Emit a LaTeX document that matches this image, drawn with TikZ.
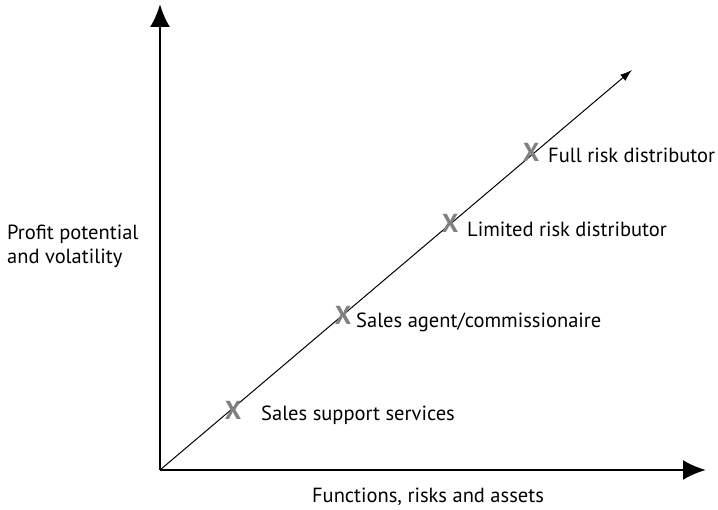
\documentclass[tikz,border=0pt]{standalone}
\usepackage{fontspec}
\setmainfont{PT Sans}
\usetikzlibrary{arrows.meta}
\begin{document}
\begin{tikzpicture}[x=1pt,y=-1pt,
  axis/.style={line width=2.5pt,-{Latex[length=23pt,width=20pt]}},
  xmark/.style={text=gray,font=\fontsize{26}{26}\selectfont\bfseries,inner sep=0pt},
  lbl/.style={font=\fontsize{20.5}{24}\selectfont,anchor=west,inner sep=0pt}]
\useasboundingbox (0,0) rectangle (718,510);
\coordinate (O) at (160,470);
\coordinate (ytop) at (160,4);
\coordinate (xend) at (706,470);
\coordinate (dtip) at (632,70);
\draw[axis] (O) -- (ytop);
\draw[axis] (O) -- (xend);
\draw[line width=1pt,-{Latex[length=12pt,width=8pt]}] (O) -- (dtip);
\node[xmark] (s1) at (233,410) {X};
\node[xmark] (s2) at (343,315) {X};
\node[xmark] (s3) at (450,223) {X};
\node[xmark] (s4) at (531,152) {X};
\node[lbl] at (261,415) {Sales support services};
\node[lbl] at (356,322) {Sales agent/commissionaire};
\node[lbl] at (467,229) {Limited risk distributor};
\node[lbl] at (548,155) {Full risk distributor};
\node[lbl,align=left] at (7,246) {Profit potential\\and volatility};
\node[font=\fontsize{20.5}{24}\selectfont,inner sep=0pt] at (428,497) {Functions, risks and assets};
\end{tikzpicture}
\end{document}
